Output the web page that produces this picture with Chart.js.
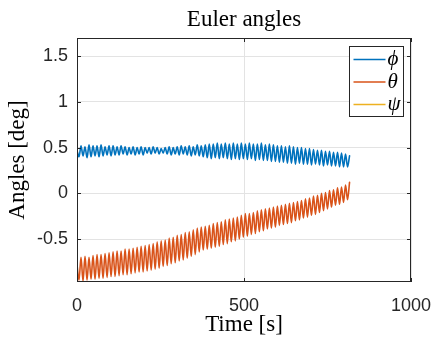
<!DOCTYPE html>
<html>
<head>
<meta charset="utf-8">
<script src="https://cdn.jsdelivr.net/npm/chart.js@4"></script>
<style>
  html, body { margin: 0; padding: 0; background: #ffffff; }
  canvas { display: block; }
</style>
</head>
<body>
<canvas id="c" width="433" height="339"></canvas>
<script>
// ---- data ----
const timeS = [0,6,12,18,24,30,36,42,48,54,60,66,72,78,84,90,96,102,108,114,120,126,132,138,144,150,156,162,168,174,180,186,192,198,204,210,216,222,228,234,240,246,252,258,264,270,276,282,288,294,300,306,312,318,324,330,336,342,348,354,360,366,372,378,384,390,396,402,408,414,420,426,432,438,444,450,456,462,468,474,480,486,492,498,504,510,516,522,528,534,540,546,552,558,564,570,576,582,588,594,600,606,612,618,624,630,636,642,648,654,660,666,672,678,684,690,696,702,708,714,720,726,732,738,744,750,756,762,768,774,780,786,792,798,804,810,816];

const phiDeg = [0.47,0.40,0.52,0.41,0.51,0.39,0.53,0.40,0.52,0.41,0.52,0.40,0.53,0.41,0.51,0.42,0.52,
  0.41,0.52,0.42,0.51,0.42,0.52,0.43,0.51,0.42,0.50,0.43,0.51,0.42,0.50,0.43,0.51,0.42,
  0.50,0.44,0.50,0.43,0.51,0.44,0.50,0.43,0.49,0.44,0.50,0.43,0.51,0.42,0.50,0.43,0.51,
  0.42,0.52,0.43,0.51,0.42,0.52,0.41,0.51,0.42,0.53,0.41,0.52,0.40,0.53,0.39,0.54,
  0.38,0.54,0.39,0.55,0.38,0.54,0.39,0.55,0.38,0.54,0.37,0.55,0.38,0.54,0.37,0.55,0.38,
  0.54,0.37,0.55,0.38,0.54,0.36,0.54,0.37,0.55,0.36,0.53,0.36,0.54,0.35,0.53,0.35,0.52,
  0.34,0.52,0.34,0.51,0.33,0.52,0.33,0.51,0.32,0.50,0.33,0.50,0.32,0.49,0.32,0.49,
  0.31,0.48,0.32,0.47,0.31,0.47,0.30,0.46,0.31,0.46,0.30,0.45,0.30,0.45,
  0.29,0.44,0.29,0.43,0.29,0.41,0.27];

const thetaDeg = [-0.78,-0.95,-0.70,-0.96,-0.69,-0.95,-0.70,-0.94,-0.68,-0.94,-0.67,-0.93,-0.67,-0.93,-0.66,-0.92,-0.65,
  -0.91,-0.64,-0.91,-0.63,-0.90,-0.63,-0.89,-0.61,-0.89,-0.61,-0.88,-0.60,-0.87,-0.59,-0.86,-0.58,-0.86,
  -0.57,-0.85,-0.56,-0.84,-0.55,-0.83,-0.53,-0.82,-0.52,-0.80,-0.51,-0.79,-0.49,-0.77,-0.48,-0.76,-0.46,
  -0.74,-0.45,-0.73,-0.43,-0.71,-0.42,-0.69,-0.40,-0.67,-0.38,-0.64,-0.37,-0.62,-0.36,-0.61,-0.35,
  -0.60,-0.33,-0.59,-0.32,-0.58,-0.31,-0.56,-0.29,-0.55,-0.28,-0.53,-0.27,-0.52,-0.26,-0.50,-0.24,-0.48,
  -0.22,-0.47,-0.22,-0.45,-0.21,-0.44,-0.19,-0.42,-0.18,-0.41,-0.17,-0.39,-0.16,-0.38,-0.15,-0.37,-0.14,
  -0.35,-0.13,-0.34,-0.12,-0.33,-0.11,-0.32,-0.10,-0.30,-0.09,-0.29,-0.08,-0.27,-0.06,-0.26,-0.05,
  -0.24,-0.03,-0.23,-0.02,-0.21,0.00,-0.19,0.01,-0.17,0.03,-0.15,0.04,-0.13,0.06,
  -0.12,0.07,-0.10,0.09,-0.07,0.12];

// psi is listed in the legend but has no visible trace in the reference
const psiDeg = [];

const seriesLabels = ['\u03D5', '\u03B8', '\u03C8'];
const xTickValues = [0, 500, 1000];
const yTickValues = [-0.5, 0, 0.5, 1, 1.5];

// ---- build points ----
function toPoints(vals) { return vals.map((v, i) => ({ x: timeS[i], y: v })); }

const AXIS = '#262626';
const GRID = '#e3e3e3';

const boxTicksPlugin = {
  id: 'boxTicks',
  afterDatasetsDraw(chart) {
    const { ctx, chartArea: a, scales } = chart;
    ctx.save();
    ctx.strokeStyle = AXIS;
    ctx.lineWidth = 1;
    ctx.strokeRect(Math.round(a.left) + 0.5, Math.round(a.top) + 0.5,
                   Math.round(a.right - a.left) - 1, Math.round(a.bottom - a.top) - 1);
    const L = 4;
    ctx.beginPath();
    yTickValues.forEach(v => {
      const y = Math.round(scales.y.getPixelForValue(v)) + 0.5;
      ctx.moveTo(a.left, y); ctx.lineTo(a.left + L, y);
      ctx.moveTo(a.right, y); ctx.lineTo(a.right - L, y);
    });
    xTickValues.forEach(v => {
      const x = Math.round(scales.x.getPixelForValue(v)) + 0.5;
      ctx.moveTo(x, a.bottom); ctx.lineTo(x, a.bottom - L);
      ctx.moveTo(x, a.top); ctx.lineTo(x, a.top + L);
    });
    ctx.stroke();
    ctx.restore();
  },
  afterDraw(chart) {
    const { ctx, chartArea: a } = chart;
    const ds = chart.data.datasets;
    const w = 54, rowH = 22.5, h = 70;
    const x0 = Math.round(a.right - 8 - w) + 0.5;
    const y0 = Math.round(a.top + 8) + 0.5;
    ctx.save();
    ctx.fillStyle = '#ffffff';
    ctx.fillRect(x0, y0, w, h);
    ctx.strokeStyle = '#262626';
    ctx.lineWidth = 1;
    ctx.strokeRect(x0, y0, w, h);
    ctx.font = 'italic 21px "Liberation Serif", serif';
    ctx.textBaseline = 'middle';
    ctx.textAlign = 'left';
    ds.forEach((d, i) => {
      const yc = y0 + 13 + i * rowH;
      ctx.strokeStyle = d.borderColor;
      ctx.lineWidth = 1.6;
      ctx.beginPath();
      ctx.moveTo(x0 + 4, yc);
      ctx.lineTo(x0 + 36, yc);
      ctx.stroke();
      ctx.fillStyle = '#000000';
      ctx.fillText(d.label, x0 + 38, yc);
    });
    ctx.restore();
  }
};

new Chart(document.getElementById('c'), {
  type: 'line',
  data: {
    datasets: [
      { label: seriesLabels[0], data: toPoints(phiDeg), borderColor: '#0072BD', backgroundColor: '#0072BD' },
      { label: seriesLabels[1], data: toPoints(thetaDeg), borderColor: '#D95319', backgroundColor: '#D95319' },
      { label: seriesLabels[2], data: toPoints(psiDeg), borderColor: '#EDB120', backgroundColor: '#EDB120' }
    ]
  },
  options: {
    responsive: false,
    animation: false,
    devicePixelRatio: 1,
    layout: { padding: { left: 0, right: 22, top: 0, bottom: 0 } },
    elements: {
      point: { radius: 0 },
      line: { borderWidth: 1.6, cubicInterpolationMode: 'monotone', borderJoinStyle: 'round', borderCapStyle: 'round' }
    },
    plugins: {
      legend: { display: false },
      tooltip: { enabled: false },
      title: {
        display: true,
        text: 'Euler angles',
        fullSize: false,
        color: '#000000',
        font: { family: '"Liberation Serif", serif', size: 23, weight: 'normal' },
        padding: { top: 6, bottom: 4.4 }
      }
    },
    scales: {
      x: {
        type: 'linear',
        min: 0, max: 1000,
        afterBuildTicks(s) { s.ticks = xTickValues.map(v => ({ value: v })); },
        afterFit(s) { s.height = 57; s.paddingLeft = 0; s.paddingRight = 0; },
        grid: { color: GRID, drawTicks: false, lineWidth: 1 },
        border: { display: false },
        ticks: {
          color: AXIS, padding: 13, maxRotation: 0,
          font: { family: '"Liberation Sans", Arial, sans-serif', size: 18 },
          callback: v => String(v)
        },
        title: {
          display: true, text: 'Time [s]', color: '#000000',
          font: { family: '"Liberation Serif", serif', size: 23 },
          padding: { top: 0, bottom: 0 }
        }
      },
      y: {
        type: 'linear',
        min: -0.97, max: 1.7,
        afterBuildTicks(s) { s.ticks = yTickValues.map(v => ({ value: v })); },
        afterFit(s) { s.width = 77; s.paddingTop = 0; s.paddingBottom = 0; },
        grid: { color: GRID, drawTicks: false, lineWidth: 1 },
        border: { display: false },
        ticks: {
          color: AXIS, padding: 9,
          font: { family: '"Liberation Sans", Arial, sans-serif', size: 18 },
          callback: v => String(v)
        },
        title: {
          display: true, text: 'Angles [deg]', color: '#000000',
          font: { family: '"Liberation Serif", serif', size: 23 },
          padding: { top: 4, bottom: 0 }
        }
      }
    }
  },
  plugins: [boxTicksPlugin]
});
</script>
</body>
</html>
